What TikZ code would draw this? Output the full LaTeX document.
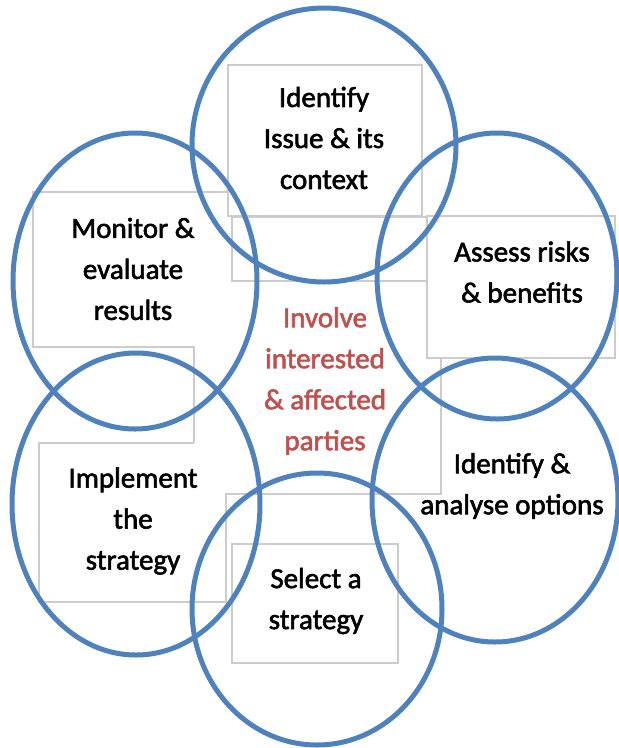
\documentclass[tikz,border=0pt]{standalone}
\usepackage{fontspec}
\setmainfont{Carlito}
\newfontfamily\lblfont[FakeBold=2]{Carlito}
\definecolor{ringblue}{HTML}{4F81BD}
\definecolor{partred}{HTML}{C0504D}
\definecolor{boxgray}{HTML}{CCCCCC}
\begin{document}
\begin{tikzpicture}[x=1pt,y=-1pt,
  ring/.style={draw=ringblue,line width=5pt},
  grayline/.style={draw=boxgray,line width=1.1pt},
  lbl/.style={align=center,font=\lblfont\fontsize{29}{41}\selectfont,inner sep=0pt}]
\useasboundingbox (0,0) rectangle (619,748);
% thin grey text-box borders
\draw[grayline] (228,65) rectangle (422,216);
\draw[grayline] (232,217) rectangle (427,281);
\draw[grayline] (427,216) rectangle (615,358);
\draw[grayline] (227,192) -- (33,192) -- (33,347) -- (194,347) -- (194,443);
\draw[grayline] (194,443) -- (39,443) -- (39,602) -- (226,602) -- (226,494) -- (441,494) -- (441,358);
\draw[grayline] (232,544) rectangle (398,663);
% rings
\draw[ring] (324,145) ellipse [x radius=132pt, y radius=137pt];
\draw[ring] (135,281) ellipse [x radius=122pt, y radius=148pt];
\draw[ring] (497,276) ellipse [x radius=120pt, y radius=143pt];
\draw[ring] (136,504) ellipse [x radius=124pt, y radius=151pt];
\draw[ring] (495,500) ellipse [x radius=123pt, y radius=142pt];
\draw[ring] (317,609) ellipse [x radius=125pt, y radius=136pt];
% labels
\node[lbl] (issue) at (324,138) {Identify\\Issue \& its\\context};
\node[lbl] (monitor) at (133,269) {Monitor \&\\evaluate\\results};
\node[lbl] (assess) at (522,272) {Assess risks\\\& benefits};
\node[lbl,text=partred] (involve) at (325,381) {Involve\\interested\\\& affected\\parties};
\node[lbl] (implement) at (133,521) {Implement\\the\\strategy};
\node[lbl] (options) at (512,486) {Identify \&\\analyse options};
\node[lbl] (select) at (316,601) {Select a\\strategy};
\end{tikzpicture}
\end{document}
